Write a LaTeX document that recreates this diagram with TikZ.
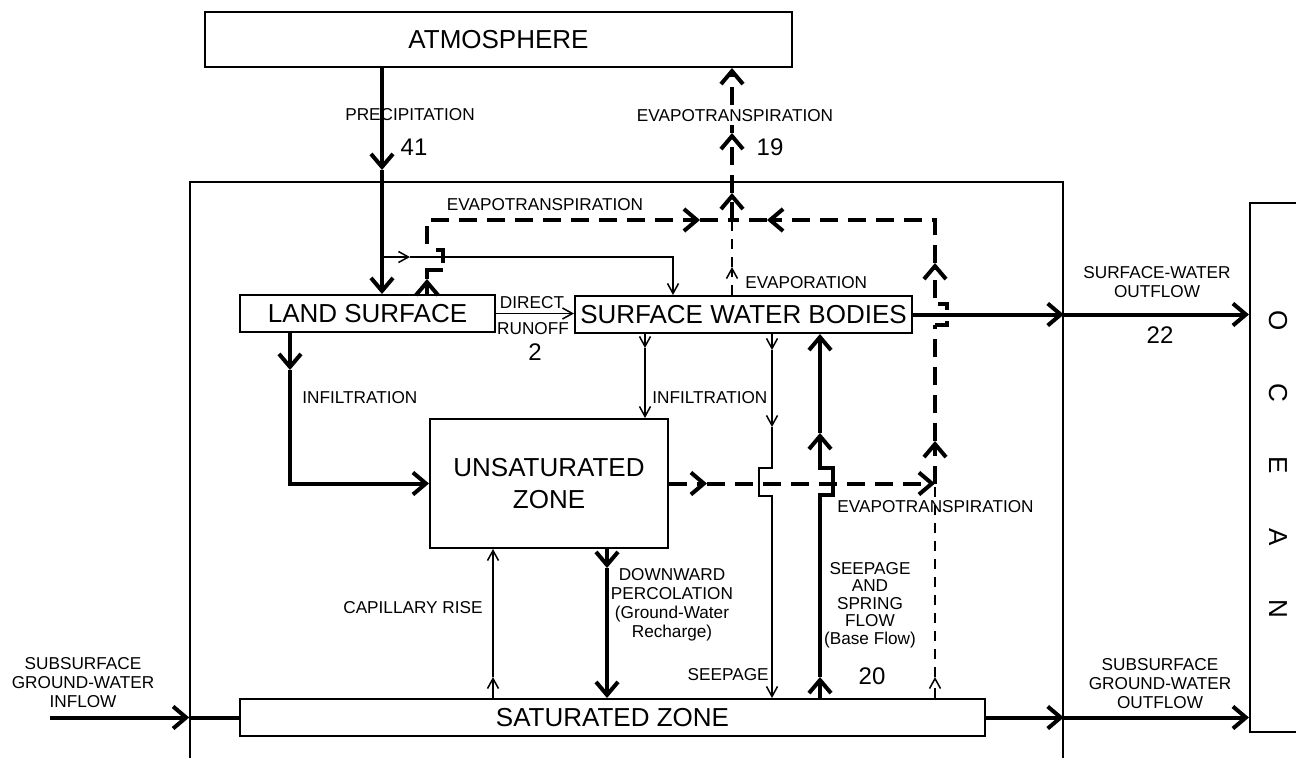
\documentclass[tikz,border=0pt]{standalone}
\usepackage{fontspec}
\setmainfont{Liberation Sans}
\usetikzlibrary{arrows.meta}
\tikzset{
	zone/.style={rectangle, draw, line width=1pt, inner sep=0pt, align=center, font=\fontsize{13}{16}\selectfont},
	tag/.style={inner sep=0pt, align=center, font=\fontsize{8.6}{9.5}\selectfont},
	num/.style={inner sep=0pt, font=\fontsize{12}{14}\selectfont},
	mainflow/.style={-{Straight Barb[length=6.5pt, width=11pt]}, line width=2pt},
	minorflow/.style={-{Straight Barb[length=5pt, width=5.5pt]}, line width=0.75pt},
	vapourline/.style={line width=2pt, dash pattern=on 9pt off 5pt},
	vapour/.style={vapourline, -{Straight Barb[length=6.5pt, width=11pt]}},
	thinvapourline/.style={line width=0.75pt, dash pattern=on 5pt off 4pt},
	thinvapour/.style={thinvapourline, -{Straight Barb[length=5pt, width=5.5pt]}},
	bridge/.style={line width=2pt},
}
\begin{document}
\begin{tikzpicture}[x=0.5pt, y=-0.5pt]
	\useasboundingbox (0,0) rectangle (1296,757);
	% boxes
	\node[zone, minimum width=293.5pt, minimum height=27.5pt] (atm) at (498.5,39.5) {ATMOSPHERE};
	\node[draw, line width=0.8pt, inner sep=0pt, minimum width=436.5pt, minimum height=309pt] (basin) at (626.5,491) {};
	\node[zone, minimum width=30pt, minimum height=264.5pt] (ocean) at (1280,467.5) {};
	\foreach \ch [count=\i] in {O,C,E,A,N}
		\node[zone, draw=none, rotate=-90] (ocean\i) at (1278,{321+72*(\i-1)}) {\ch};
	\node[zone, minimum width=127.5pt, minimum height=18.5pt] (ls) at (367.5,313.5) {LAND SURFACE};
	\node[zone, minimum width=168.5pt, minimum height=18.5pt] (swb) at (743.5,314.5) {SURFACE WATER BODIES};
	\node[zone, minimum width=119pt, minimum height=64.5pt] (unsat) at (549,483.5) {UNSATURATED\\ZONE};
	\node[zone, minimum width=372.5pt, minimum height=18.5pt] (sat) at (612.5,717.5) {SATURATED ZONE};

	% points on the flow lines
	\coordinate (precip) at (382,170);
	\coordinate (split) at (382,257);
	\coordinate (splitmid) at (410,257);
	\coordinate (swbin) at (673,257);
	\coordinate (lsup) at (427,279);
	\coordinate (lsbridge) at (443,263);
	\coordinate (lsdash) at (427,244);
	\coordinate (etleft) at (700,220);
	\coordinate (etjoin) at (732,220);
	\coordinate (etright) at (767,220);
	\coordinate (etatmA) at (732,193);
	\coordinate (etatmB) at (732,133);
	\coordinate (evapup) at (732,267);
	\coordinate (etmid) at (707,483.5);
	\coordinate (etlow) at (935,483.5);
	\coordinate (etupA) at (935,441);
	\coordinate (swbridge) at (935,325);
	\coordinate (swdash) at (935,298);
	\coordinate (etupB) at (935,263);
	\coordinate (lowup) at (935,677);
	\coordinate (infl) at (290,370);
	\coordinate (infm) at (645,348);
	\coordinate (seepA) at (772,350);
	\coordinate (seepB) at (772,427);
	\coordinate (baseA) at (820,677);
	\coordinate (baseB) at (820,433);
	\coordinate (perc) at (607,568);
	\coordinate (capr) at (493,677);
	\coordinate (inflow) at (50,717.5);

	% precipitation
	\draw[mainflow] (atm.south -| precip) -- (precip);
	\draw[mainflow] (precip) -- (ls.north -| precip);
	\draw[minorflow] (split) -- (splitmid);
	\draw[minorflow] (splitmid) -| (swb.north -| swbin);

	% evapotranspiration from land surface
	\draw[mainflow] (ls.north -| lsup) -- (lsup);
	\draw[bridge] (lsup) |- ++(16,-9);
	\draw[bridge] (lsbridge) -- ++(0,-13) -- ++(-7,0);
	\draw[vapour] (lsdash) |- (etleft);
	\draw[vapourline] (etleft) -- (etjoin);
	\draw[vapour] (etjoin) -- (etatmA);
	\draw[vapour] (etatmA) -- (etatmB);
	\draw[vapour] (etatmB) -- (atm.south -| etjoin);
	\draw[thinvapour] (swb.north -| etjoin) -- (evapup);
	\draw[thinvapourline] (evapup) -- (etjoin);

	% evapotranspiration from the zones
	\draw[vapour] (unsat.east) -- (etmid);
	\draw[vapour] (etmid) -- (etlow);
	\draw[thinvapour] (sat.north -| lowup) -- (lowup);
	\draw[thinvapourline] (lowup) -- (etlow);
	\draw[vapour] (etlow) -- (etupA);
	\draw[vapourline] (etupA) -- (swbridge);
	\draw[bridge] (swbridge) -- ++(12,0) -- ++(0,-4);
	\draw[bridge] (swbridge) ++(12,-15) -- ++(0,-6) -- ++(-9,0);
	\draw[vapour] (swdash) -- (etupB);
	\draw[vapour] (etupB) |- (etright);
	\draw[vapourline] (etright) -- (etjoin);

	% infiltration, runoff, seepage
	\draw[mainflow] (ls.south -| infl) -- (infl);
	\draw[mainflow] (infl) |- (unsat.west);
	\draw[minorflow] (ls.east) -- (ls.east -| swb.west);
	\draw[minorflow] (swb.south -| infm) -- (infm);
	\draw[minorflow] (infm) -- (unsat.north -| infm);
	\draw[minorflow] (swb.south -| seepA) -- (seepA);
	\draw[minorflow] (seepA) -- (seepB);
	\draw[minorflow] (seepB) -- ++(0,41) -- ++(-13,0) -- ++(0,28) -- ++(13,0) -- (sat.north -| seepB);
	\draw[mainflow] (sat.north -| baseA) -- (baseA);
	\draw[mainflow] (baseA) -- ++(0,-182) -- ++(13,0) -- ++(0,-27) -- ++(-13,0) -- (baseB);
	\draw[mainflow] (baseB) -- (swb.south -| baseB);
	\draw[mainflow] (unsat.south -| perc) -- (perc);
	\draw[mainflow] (perc) -- (sat.north -| perc);
	\draw[minorflow] (sat.north -| capr) -- (capr);
	\draw[minorflow] (capr) -- (unsat.south -| capr);

	% inflow and outflow
	\draw[mainflow] (inflow) -- (basin.west |- sat.west);
	\draw[bridge] (basin.west |- sat.west) -- (sat.west);
	\draw[mainflow] (sat.east) -- (basin.east |- sat.east);
	\draw[mainflow] (basin.east |- sat.east) -- (ocean.west |- sat.east);
	\draw[mainflow] (swb.east) -- (basin.east |- swb.east);
	\draw[mainflow] (basin.east |- swb.east) -- (ocean.west |- swb.east);

	% labels
	\node[tag] (precipl) at (410,115) {PRECIPITATION};
	\node[num] (precipn) at (414,147) {41};
	\node[tag, fill=white, inner sep=1.5pt] (etatml) at (735,116) {EVAPOTRANSPIRATION};
	\node[num] (etatmn) at (770,147) {19};
	\node[tag] (etlsl) at (545,205) {EVAPOTRANSPIRATION};
	\node[tag, anchor=west] (evapl) at (745,283) {EVAPORATION};
	\node[tag] (runoffa) at (532,303) {DIRECT};
	\node[tag] (runoffb) at (533,329) {RUNOFF};
	\node[num] (runoffn) at (535,352) {2};
	\node[tag] (swoutl) at (1157,282) {SURFACE-WATER\\OUTFLOW};
	\node[num] (swoutn) at (1160,335) {22};
	\node[tag, anchor=west] (infll) at (302,398) {INFILTRATION};
	\node[tag, anchor=west] (infml) at (652,398) {INFILTRATION};
	\node[tag, anchor=west] (etzl) at (837,507) {EVAPOTRANSPIRATION};
	\node[tag, anchor=east] (caprl) at (483,608) {CAPILLARY RISE};
	\node[tag] (percl) at (672,605) {DOWNWARD\\PERCOLATION\\(Ground-Water\\Recharge)};
	\node[tag, anchor=east] (seepl) at (769,675) {SEEPAGE};
	\node[tag, font=\fontsize{8.6}{8.7}\selectfont] (basel) at (870,605) {SEEPAGE\\AND\\SPRING\\FLOW\\(Base Flow)};
	\node[num] (basen) at (872,676) {20};
	\node[tag] (inflowl) at (83,683) {SUBSURFACE\\GROUND-WATER\\INFLOW};
	\node[tag] (outflowl) at (1160,684) {SUBSURFACE\\GROUND-WATER\\OUTFLOW};
\end{tikzpicture}
\end{document}
